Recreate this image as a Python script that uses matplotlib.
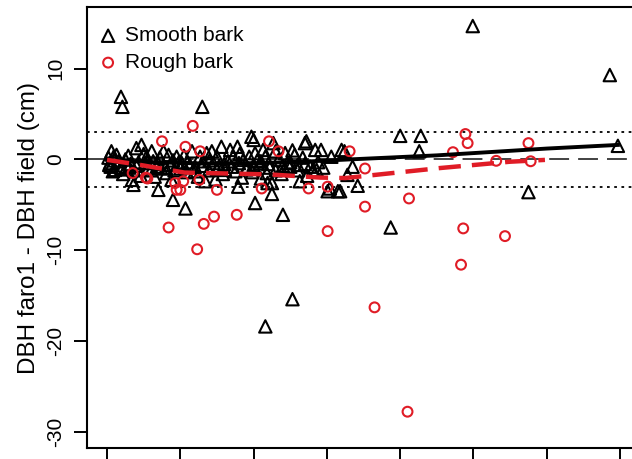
import numpy as np
import matplotlib
matplotlib.use("Agg")
import matplotlib.pyplot as plt

plt.rcParams['font.family'] = ['Liberation Sans', 'DejaVu Sans']

# smooth bark points (DBH, difference)
smooth_x = [11.9, 12.1, 23.0, 59.9, 78.6, 79.7, 50.0, 52.8, 52.6, 67.5, 48.7, 31.6, 35.3, 34.0,
            30.2, 17.0, 19.0, 20.7, 32.5, 40.1, 41.5, 44.2, 27.9, 31.9, 39.2, 40.6, 42.4, 43.5,
            42.8, 13.4, 13.6,
            10.6, 10.9, 10.4, 11.1, 12.5, 12.7, 14.0, 14.7, 15.4, 16.1, 16.8, 17.7, 18.1, 18.8,
            19.5, 20.2, 21.6, 22.0, 22.7, 23.4, 23.6, 24.5, 25.0, 25.6, 26.1, 26.8, 27.2, 27.8,
            28.6, 29.1, 29.7, 30.0, 30.2, 30.9, 31.3, 31.8, 32.5, 32.7, 33.4, 34.3, 35.0, 35.6,
            36.3, 37.0, 37.7, 38.4, 38.1,
            10.2, 10.5, 10.8, 11.3, 11.6, 11.9, 12.2, 12.9, 13.2, 13.7, 14.3, 14.6, 15.0, 15.6,
            16.3, 16.5, 17.2, 17.4, 18.4, 18.6, 19.2, 19.8, 20.5, 20.9, 21.3, 22.4, 23.1, 23.9,
            24.3, 24.8, 25.3, 25.8, 26.5, 27.5, 28.1, 28.4, 29.4, 29.8, 30.5, 31.0, 31.6, 32.2,
            33.0, 33.8, 34.6, 35.3, 36.0, 36.7, 37.3, 38.8, 39.5, 42.0, 38.6, 40.4, 37.2, 41.8,
            10.3, 11.0, 12.0, 13.0, 14.0, 15.2, 16.0, 17.0, 18.0, 19.0, 20.0, 21.0, 22.0, 23.0,
            24.0, 25.0, 26.0, 27.0, 28.0, 29.0, 30.0, 31.0, 32.0, 33.0, 34.0, 35.0, 36.0, 37.0]
smooth_y = [6.9, 5.8, 5.8, 14.7, 9.3, 1.5, 2.6, 2.6, 0.9, -3.6, -7.5, -18.4, -15.4, -6.1,
            -4.8, -3.35, -4.45, -5.4, -3.8, -3.5, -3.5, -2.9, -3.0, -2.6, 1.05, 0.3, 0.9, -0.8,
            -1.7, -2.25, -2.8,
            0.9, 0.3, -0.4, -1.15, 0.0, -0.8, 1.25, 1.6, 0.3, 0.9, -0.8, 0.9, -1.5, -2.25,
            0.3, -0.4, 0.9, -0.8, 0.3, -2.4, 0.7, -0.4, 0.3, 1.4, -1.15, 1.05, 0.3, 1.4,
            -0.05, -0.8, 2.5, 2.15, 0.7, -0.4, 1.05, -1.5, -2.6, 1.8, -0.05, 0.7, -0.8, 0.5,
            -2.4, 1.8, -0.8, 1.05, -1.15,
            0.2, -0.8, -1.3, 0.5, -0.2, -0.9, -1.6, 0.4, -0.5, -1.2, -0.3, -1.8, 0.6, -1.0,
            -0.2, -1.9, 0.2, -1.0, 0.5, -0.6, -1.2, -0.3, 0.4, -1.4, -0.6, -1.9, -0.2, -1.2,
            0.9, -2.2, -0.7, -1.6, -0.2, -1.3, 0.6, -2.0, 0.3, -1.4, -0.1, -2.1, 0.3, -0.9,
            0.9, -1.6, -0.4, 1.0, -1.2, 0.2, -1.8, -0.3, -0.9, 1.05, -1.15, -3.2, 2.0, -3.5,
            -0.6, -0.1, -1.1, -0.9, -0.7, -0.4, -1.2, -0.5, -0.9, -0.1, -1.0, -0.3, -1.3, -0.7,
            -0.1, -1.1, -0.5, -0.8, -0.4, -1.1, -0.6, -0.2, -0.5, -1.2, -0.7, -0.3, -0.6, -0.5]

# rough bark points
rough_x = [17.5, 20.7, 21.7, 22.7, 32.1, 15.5, 19.5, 20.4, 22.6, 25.0, 31.1, 37.5, 24.6, 23.2,
           27.7, 18.4, 22.3, 40.1, 40.1, 45.2, 43.1, 45.2, 51.2, 57.2, 58.9, 59.2, 63.1, 67.5,
           67.8, 58.6, 64.3, 58.3, 46.5, 51.0, 33.4, 19.3, 20.0, 13.5, 15.3]
rough_y = [2.0, 1.4, 3.7, 0.9, 2.0, -2.1, -3.35, -2.4, -2.25, -3.35, -3.2, -3.2, -6.3, -7.1,
           -6.1, -7.5, -9.9, -3.0, -7.9, -5.2, 0.9, -1.0, -4.3, 0.8, 2.8, 1.8, -0.15, 1.8,
           -0.2, -7.6, -8.45, -11.6, -16.3, -27.8, 0.9, -2.6, -3.35, -1.5, -2.0]

# smoothed trends
smooth_fit_x = [10, 16, 23, 31, 38, 43, 55, 70, 79.7]
smooth_fit_y = [-0.05, -0.3, -0.45, -0.4, -0.2, 0.0, 0.45, 1.2, 1.6]
rough_fit_x = [10, 14.5, 20.6, 32.2, 39.1, 42.5, 55.4, 65.0, 69.75]
rough_fit_y = [-0.05, -0.6, -1.45, -1.65, -2.0, -2.05, -0.95, -0.25, -0.05]

x_ticks = [10, 20, 30, 40, 50, 60, 70, 80]
y_ticks = [-30, -20, -10, 0, 10]

red = '#e01c26'

fig = plt.figure(figsize=(6.32, 4.59), dpi=100)
ax = fig.add_axes([86.5 / 632, 11 / 459, (640.6 - 86.5) / 632, 441 / 459])

ax.axhline(3, color='black', lw=1.3, ls=(0, (1.5, 2.5)), zorder=1)
ax.axhline(-3, color='black', lw=1.3, ls=(0, (1.5, 2.5)), zorder=1)
ax.axhline(0, color='#333333', lw=1.3, ls=(0, (11, 5)), zorder=1)

ax.scatter(smooth_x, smooth_y, marker='^', s=80, facecolors='none', edgecolors='black',
           linewidths=1.5, zorder=3, label='Smooth bark')
ax.scatter(rough_x, rough_y, marker='o', s=50, facecolors='none', edgecolors=red,
           linewidths=1.5, zorder=3, label='Rough bark')

ax.plot(smooth_fit_x, smooth_fit_y, color='black', lw=2.8, zorder=4)
ax.plot(rough_fit_x, rough_fit_y, color=red, lw=3.2, ls=(0, (5, 2.5)), zorder=4)

ax.set_xlim(7.2, 82.8)
ax.set_ylim(-31.8, 16.8)
ax.set_xticks(x_ticks)
ax.set_xticklabels([])
ax.set_yticks(y_ticks)
ax.set_yticklabels([str(v) for v in y_ticks], rotation=90, va='center', fontsize=15)
ax.tick_params(axis='both', length=9.5, width=1.4, color='black')
ax.tick_params(axis='y', pad=6)
for sp in ax.spines.values():
    sp.set_linewidth(1.5)

ax.set_ylabel('DBH faro1 - DBH field (cm)', fontsize=17.5, labelpad=4)

ax.legend(loc='upper left', bbox_to_anchor=(-0.0144, 1.0), frameon=False, fontsize=15,
          handlelength=1.0, handletextpad=0.3, labelspacing=0.38, borderaxespad=0.62,
          borderpad=0.3, scatterpoints=1)

fig.savefig('out.png', dpi=100)
